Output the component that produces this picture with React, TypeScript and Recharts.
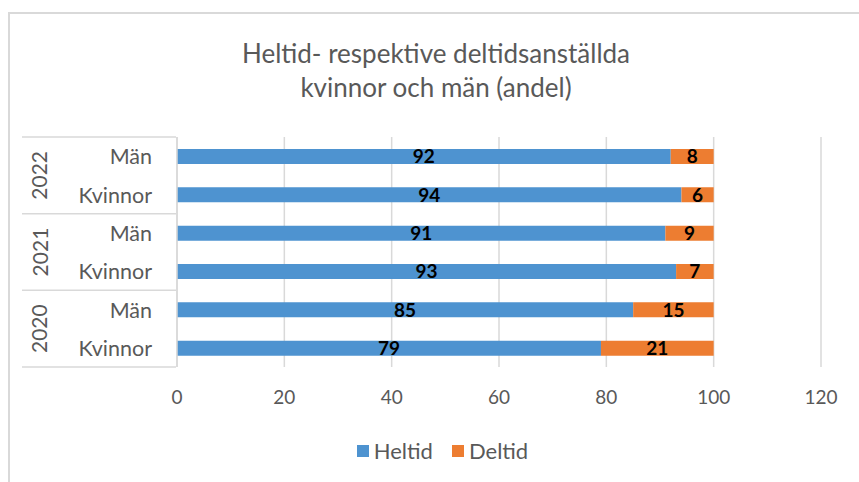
import React from 'react';
import { BarChart, Bar, XAxis, YAxis, CartesianGrid, LabelList } from 'recharts';

const categories = ['Män 2022', 'Kvinnor 2022', 'Män 2021', 'Kvinnor 2021', 'Män 2020', 'Kvinnor 2020'];
const genderLabels = ['Män', 'Kvinnor', 'Män', 'Kvinnor', 'Män', 'Kvinnor'];
const yearLabels = ['2022', '2021', '2020'];
const heltid = [92, 94, 91, 93, 85, 79];
const deltid = [8, 6, 9, 7, 15, 21];
const xTicks = [0, 20, 40, 60, 80, 100, 120];
const seriesNames = ['Heltid', 'Deltid'];

const data = categories.map((c, i) => ({ cat: c, Heltid: heltid[i], Deltid: deltid[i] }));

const W = 859;
const H = 482;
const PLOT_TOP = 137;
const PLOT_BOTTOM = 367;
const PLOT_LEFT = 177;
const PLOT_RIGHT = 821;
const ROW = (PLOT_BOTTOM - PLOT_TOP) / categories.length;
const FONT = 'Lato, "Open Sans", sans-serif';
const GRAY = '#595959';
const LINE = '#d9d9d9';
const BLUE = '#4E93D0';
const ORANGE = '#ED7D31';

const CatTick = (props: any) => {
  const { y, index } = props;
  const groupIdx = Math.floor(index / 2);
  const isFirst = index % 2 === 0;
  const isLast = index === categories.length - 1;
  return (
    <g>
      <text x={152} y={y} textAnchor="end" dominantBaseline="central" fill={GRAY} fontSize={21.5} fontFamily={FONT}>
        {genderLabels[index]}
      </text>
      {isFirst && (
        <line x1={22} x2={176} y1={y - ROW / 2} y2={y - ROW / 2} stroke={LINE} strokeWidth={1.5} />
      )}
      {isFirst && (
        <text
          x={39}
          y={y + ROW / 2}
          textAnchor="middle"
          dominantBaseline="central"
          fill={GRAY}
          fontSize={21}
          fontFamily={FONT}
          transform={`rotate(-90 39 ${y + ROW / 2})`}
        >
          {yearLabels[groupIdx]}
        </text>
      )}
      {isLast && (
        <line x1={22} x2={176} y1={y + ROW / 2} y2={y + ROW / 2} stroke={LINE} strokeWidth={1.5} />
      )}
    </g>
  );
};

export default function App() {
  return (
    <div style={{ position: 'absolute', left: 0, top: 0, width: W, height: H, background: '#fff', overflow: 'hidden' }}>
      <div
        style={{
          position: 'absolute',
          left: 8,
          top: 12,
          width: W + 20,
          height: H + 20,
          border: `2px solid ${LINE}`,
          boxSizing: 'border-box',
        }}
      />
      <div
        style={{
          position: 'absolute',
          left: 0,
          top: 36,
          width: 872,
          textAlign: 'center',
          fontFamily: FONT,
          fontSize: 26,
          lineHeight: '34px',
          color: GRAY,
        }}
      >
        Heltid- respektive deltidsanställda
        <br />
        kvinnor och män (andel)
      </div>
      <div style={{ position: 'absolute', left: 0, top: 0 }}>
        <BarChart
          width={W}
          height={H}
          data={data}
          layout="vertical"
          barSize={15}
          margin={{ top: PLOT_TOP, bottom: 0, left: 0, right: W - PLOT_RIGHT }}
        >
          <CartesianGrid horizontal={false} stroke={LINE} strokeWidth={1.5} />
          <XAxis
            type="number"
            domain={[0, 120]}
            ticks={xTicks}
            axisLine={false}
            tickLine={false}
            tickMargin={18}
            tick={{ fill: GRAY, fontSize: 19, fontFamily: FONT }}
            height={H - PLOT_BOTTOM}
          />
          <YAxis
            type="category"
            dataKey="cat"
            width={PLOT_LEFT}
            axisLine={{ stroke: LINE, strokeWidth: 1.5 }}
            tickLine={false}
            tick={<CatTick />}
            interval={0}
          />
          <Bar dataKey="Heltid" stackId="a" fill={BLUE} isAnimationActive={false}>
            <LabelList dataKey="Heltid" position="center" fill="#000" fontWeight="bold" fontSize={19} fontFamily={FONT} />
          </Bar>
          <Bar dataKey="Deltid" stackId="a" fill={ORANGE} isAnimationActive={false}>
            <LabelList dataKey="Deltid" position="center" fill="#000" fontWeight="bold" fontSize={19} fontFamily={FONT} />
          </Bar>
        </BarChart>
      </div>
      <div
        style={{
          position: 'absolute',
          left: 0,
          top: 438,
          width: 885,
          display: 'flex',
          justifyContent: 'center',
          alignItems: 'center',
          fontFamily: FONT,
          fontSize: 22,
          color: GRAY,
          lineHeight: '26px',
        }}
      >
        <span style={{ display: 'inline-block', width: 12, height: 12, background: BLUE, marginRight: 5 }} />
        <span style={{ marginRight: 19 }}>{seriesNames[0]}</span>
        <span style={{ display: 'inline-block', width: 12, height: 12, background: ORANGE, marginRight: 5 }} />
        <span>{seriesNames[1]}</span>
      </div>
    </div>
  );
}
